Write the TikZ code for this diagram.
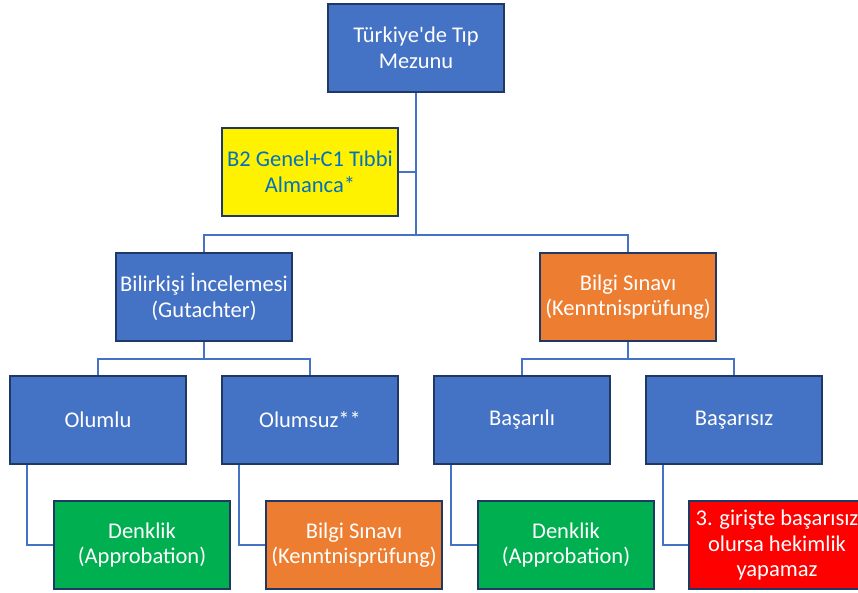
\documentclass[tikz,border=0pt]{standalone}
\usepackage{fontspec}
\setmainfont{Carlito}
\usetikzlibrary{positioning}
\definecolor{boxblue}{HTML}{4472C4}
\definecolor{boxline}{HTML}{203864}
\definecolor{boxorange}{HTML}{ED7D31}
\definecolor{boxgreen}{HTML}{00B050}
\definecolor{textblue}{HTML}{0070C0}
\tikzset{
  box/.style={draw=boxline, line width=2.2pt, fill=boxblue, text=white,
    minimum width=176pt, minimum height=88pt, align=center,
    font=\fontsize{22.5}{25.5}\selectfont, inner sep=0pt},
  conn/.style={draw=boxblue, line width=2.2pt}
}
\begin{document}
\begin{tikzpicture}[x=1pt, y=-1pt]
    \useasboundingbox (0,0) rectangle (858,592);
    \clip (0,0) rectangle (858,592);
    \node[box] (root) at (416,48) {Türkiye\textquotesingle de Tıp\\Mezunu};
    \node[box, fill=yellow, text=textblue] (dil) at (310,172) {B2 Genel+C1 Tıbbi\\Almanca*};
    \node[box] (bilir) at (204,297) {Bilirkişi İncelemesi\\(Gutachter)};
    \node[box, fill=boxorange] (sinav) at (628,297) {Bilgi Sınavı\\(Kenntnisprüfung)};
    \node[box] (olumlu) at (98,420) {Olumlu};
    \node[box] (olumsuz) at (310,420) {Olumsuz**};
    \node[box] (basarili) at (522,420) {Başarılı};
    \node[box] (basarisiz) at (734,420) {Başarısız};
    \node[box, fill=boxgreen] (denk1) at (142,545) {Denklik\\(Approbation)};
    \node[box, fill=boxorange] (sinav2) at (354,545) {Bilgi Sınavı\\(Kenntnisprüfung)};
    \node[box, fill=boxgreen] (denk2) at (566,545) {Denklik\\(Approbation)};
    \node[box, fill=red] (son) at (777,545) {3. girişte başarısız\\olursa hekimlik\\yapamaz};
    \coordinate (bar1) at (416,235);
    \coordinate (bar2) at (204,359);
    \coordinate (bar3) at (628,359);
    \draw[conn] (root.south) -- (bar1) -| (bilir.north);
    \draw[conn] (bar1) -| (sinav.north);
    \draw[conn] (dil.east) -- (dil.east -| root.south);
    \draw[conn] (bilir.south) -- (bar2) -| (olumlu.north);
    \draw[conn] (bar2) -| (olumsuz.north);
    \draw[conn] (sinav.south) -- (bar3) -| (basarili.north);
    \draw[conn] (bar3) -| (basarisiz.north);
    \draw[conn] ([xshift=18pt]olumlu.south west) |- (denk1.west);
    \draw[conn] ([xshift=18pt]olumsuz.south west) |- (sinav2.west);
    \draw[conn] ([xshift=18pt]basarili.south west) |- (denk2.west);
    \draw[conn] ([xshift=18pt]basarisiz.south west) |- (son.west);
\end{tikzpicture}
\end{document}
